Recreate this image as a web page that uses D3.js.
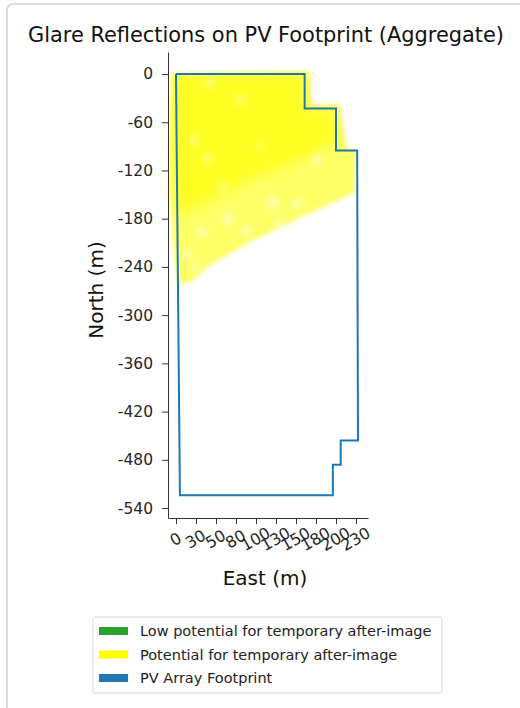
<!DOCTYPE html>
<html>
<head>
<meta charset="utf-8">
<script src="https://cdn.jsdelivr.net/npm/d3@7"></script>
<style>
  body { margin: 0; background: #fff; }
  svg { display: block; font-family: "DejaVu Sans", sans-serif; }
</style>
</head>
<body>
<div id="plot"></div>
<script>
// Footprint outline (East m, North m)
var footprintEast  = [0, 164, 164, 204, 204, 231, 232, 210, 210, 200, 200, 5, 0];
var footprintNorth = [0, 0, -43, -43, -95, -95, -456, -456, -486, -486, -524, -524, 0];

// Outer extent of the glare cloud
var glareEast  = [-6, 171, 173, 209, 217, 230, 228, 158, 94, 43, 18, 3, -5, -9, -8];
var glareNorth = [1, 4, -39, -37, -92, -95, -147, -179, -209, -238, -259, -261, -207, -132, -57];

// Denser glare band
var denseEast  = [-3, 162, 166, 199, 207, 158, 94, 31, 0, -5, -4];
var denseNorth = [-1, 0, -45, -45, -82, -107, -132, -163, -176, -107, -32];

// Pale spots inside the cloud
var paleEast  = [124, 155, 66, 33, 40, 22, 82, 43, 179, 162, 107, 60, 14, 90, 130, 25];
var paleNorth = [-160, -161, -180, -197, -105, -82, -32, -11, -107, -182, -90, -140, -225, -195, -185, -240];
var paleSize  = [6, 5, 6, 5, 4, 4, 4, 4, 5, 5, 3, 4, 5, 5, 4, 4];

var xTickValues = [0, 25.5, 51, 76.5, 102, 127.5, 153, 178.5, 204, 229.5];
var xTickLabels = ["0", "30", "50", "80", "100", "130", "150", "180", "200", "230"];
var yTickValues = [0, -60, -120, -180, -240, -300, -360, -420, -480, -540];

var legendNames  = ["Low potential for temporary after-image",
                    "Potential for temporary after-image",
                    "PV Array Footprint"];
var legendColors = ["#2ca02c", "#ffff00", "#1f77b4"];

var W = 520, H = 708;
var svg = d3.select("#plot").append("svg")
    .attr("width", W).attr("height", H);

// card frame
svg.append("rect")
    .attr("x", 7).attr("y", 4).attr("width", 540).attr("height", 740)
    .attr("rx", 6)
    .attr("fill", "#fff").attr("stroke", "#dcdcdc").attr("stroke-width", 2);

var defs = svg.append("defs");
defs.append("filter").attr("id", "soft")
    .attr("x", "-20%").attr("y", "-20%").attr("width", "140%").attr("height", "140%")
  .append("feGaussianBlur").attr("stdDeviation", 2);
defs.append("filter").attr("id", "wide")
    .attr("x", "-20%").attr("y", "-20%").attr("width", "140%").attr("height", "140%")
  .append("feGaussianBlur").attr("stdDeviation", 6);
defs.append("filter").attr("id", "softer")
    .attr("x", "-50%").attr("y", "-50%").attr("width", "200%").attr("height", "200%")
  .append("feGaussianBlur").attr("stdDeviation", 3);

var x = d3.scaleLinear().domain([-10.2, 244.8]).range([168, 368]);
var y = d3.scaleLinear().domain([27.4, -552.4]).range([52, 518]);

// glare cloud
var blob = d3.line()
    .x(function(d) { return x(d[0]); })
    .y(function(d) { return y(d[1]); })
    .curve(d3.curveLinearClosed);

var glarePts = glareEast.map(function(e, i) { return [e, glareNorth[i]]; });
var densePts = denseEast.map(function(e, i) { return [e, denseNorth[i]]; });

var clip = defs.append("clipPath").attr("id", "cloud");
clip.append("path").attr("d", blob(glarePts));

svg.append("path")
    .attr("d", blob(glarePts))
    .attr("fill", "#ffff00").attr("fill-opacity", 0.6)
    .attr("filter", "url(#soft)");
svg.append("g").attr("clip-path", "url(#cloud)")
  .append("path")
    .attr("d", blob(densePts))
    .attr("fill", "#ffff00").attr("fill-opacity", 0.65)
    .attr("filter", "url(#wide)");

svg.append("g").selectAll("circle")
    .data(paleEast)
    .join("circle")
      .attr("cx", function(d) { return x(d); })
      .attr("cy", function(d, i) { return y(paleNorth[i]); })
      .attr("r", function(d, i) { return paleSize[i]; })
      .attr("fill", "#fff").attr("fill-opacity", 0.5)
      .attr("filter", "url(#softer)");

// footprint
var outline = d3.line()
    .x(function(d) { return x(d[0]); })
    .y(function(d) { return y(d[1]); });
svg.append("path")
    .attr("d", outline(footprintEast.map(function(e, i) { return [e, footprintNorth[i]]; })))
    .attr("fill", "none")
    .attr("stroke", "#1f77b4").attr("stroke-width", 2)
    .attr("stroke-linejoin", "miter");

// axes
var yAxis = d3.axisLeft(y).tickValues(yTickValues).tickSizeInner(6).tickSizeOuter(0)
    .tickPadding(9);
var gy = svg.append("g").attr("transform", "translate(168,0)").call(yAxis);
gy.selectAll("text").attr("font-size", 15.5).attr("fill", "#262626")
    .attr("font-family", "DejaVu Sans, sans-serif")
    .text(function(d) { return String(d); });

var xAxis = d3.axisBottom(x).tickValues(xTickValues).tickSizeInner(6).tickSizeOuter(0)
    .tickFormat(function(d, i) { return xTickLabels[i]; });
var gx = svg.append("g").attr("transform", "translate(0,518)").call(xAxis);
gx.selectAll("text")
    .attr("font-size", 16).attr("fill", "#262626")
    .attr("font-family", "DejaVu Sans, sans-serif")
    .attr("text-anchor", "middle")
    .attr("dy", "0.35em").attr("y", null)
    .attr("transform", "translate(-1,21) rotate(-30)");

svg.selectAll(".domain").attr("stroke", "#333");
svg.selectAll(".tick line").attr("stroke", "#333");

// titles
svg.append("text")
    .attr("x", 266).attr("y", 42)
    .attr("text-anchor", "middle").attr("font-size", 20.9).attr("fill", "#111")
    .text("Glare Reflections on PV Footprint (Aggregate)");

svg.append("text")
    .attr("transform", "translate(103,290) rotate(-90)")
    .attr("text-anchor", "middle").attr("font-size", 20).attr("fill", "#111")
    .text("North (m)");

svg.append("text")
    .attr("x", 265).attr("y", 585)
    .attr("text-anchor", "middle").attr("font-size", 20).attr("fill", "#111")
    .text("East (m)");

// legend
var lg = svg.append("g").attr("transform", "translate(93,617)");
lg.append("rect")
    .attr("width", 349).attr("height", 76).attr("rx", 2)
    .attr("fill", "#fff").attr("stroke", "#d8d8d8");
var item = lg.selectAll("g.item")
    .data(legendNames)
    .join("g").attr("class", "item")
    .attr("transform", function(d, i) { return "translate(6," + (14 + i * 23.5) + ")"; });
item.append("rect")
    .attr("x", 0).attr("y", -4).attr("width", 29).attr("height", 8)
    .attr("fill", function(d, i) { return legendColors[i]; });
item.append("text")
    .attr("x", 41).attr("y", 5)
    .attr("font-size", 14.5).attr("fill", "#222")
    .text(function(d) { return d; });
</script>
</body>
</html>
